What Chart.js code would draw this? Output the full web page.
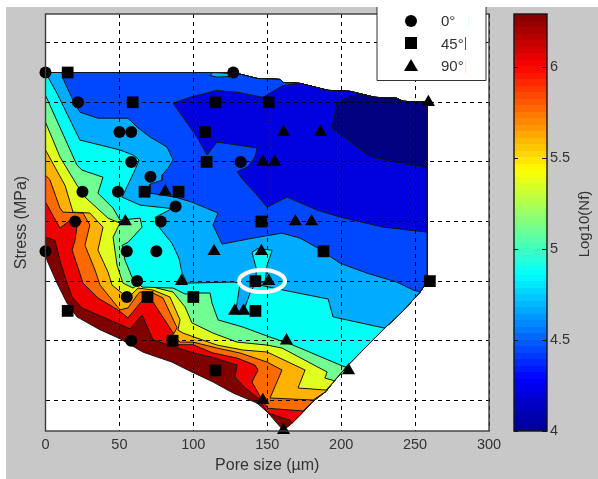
<!DOCTYPE html>
<html>
<head>
<meta charset="utf-8">
<title>Log10(Nf) vs pore size and stress</title>
<script src="https://cdn.jsdelivr.net/npm/chart.js@4"></script>
<style>
    html, body { margin: 0; background: #fff; overflow: hidden; }
    #figure { position: absolute; left: 6px; top: 7px; width: 592px; height: 472px; background: #c8c8c8; }
    canvas { position: absolute; top: 0; }
    #main { left: 0; }
    #bar { left: 490px; }
</style>
</head>
<body>
<div id="figure"></div>
<canvas id="main" width="520" height="479"></canvas>
<canvas id="bar" width="108" height="479"></canvas>
<script>
// stress has no labels in the figure, only gridlines, so its unit is arbitrary
const poreTicks = [0, 50, 100, 150, 200, 250, 300];
const stressTicks = [30, 90, 150, 210, 270, 330, 390];
const colorTicks = [4, 4.5, 5, 5.5, 6];

// specimens, one x and one y list per orientation
const circleX = [0, 127, 22, 50, 58, 58, 132, 71, 25, 49, 88, 20, 78, 0, 55, 75, 62, 55, 58];
const circleY = [360, 360, 330, 300, 300, 270, 270, 255, 240, 240, 225, 210, 210, 180, 180, 180, 150, 134, 90];
const squareX = [15, 59, 115, 151, 108, 109, 67, 90, 146, 188, 15, 69, 100, 142, 142, 86, 115, 260];
const squareY = [360, 330, 330, 330, 300, 270, 240, 240, 210, 180, 120, 134, 134, 150, 120, 90, 60, 150];
const triangleX = [161, 147, 155, 81, 54, 169, 186, 259, 180, 114, 146, 92, 151, 128, 134, 163, 147, 161, 205];
const triangleY = [300, 270, 270, 240, 210, 210, 300, 330, 210, 180, 180, 150, 150, 120, 120, 90, 30, 0, 60];

// outline of the filled zone, walking from the bottom tip up the diagonal and back along the top
const hullEdge = [[160.7, 0], [165.4, 5], [174.2, 18], [181, 29], [189.8, 39], [194.5, 48], [204, 64.5],
    [229.7, 103], [241.2, 119], [253.4, 139], [258.1, 150], [258.1, 330], [241.9, 331], [237.8, 334],
    [222.9, 335], [206, 341], [191.2, 342], [172.2, 349], [160.7, 350], [158.7, 353], [143.1, 354],
    [126.9, 360], [0, 360]];
const hullLow = [[0, 179], [1, 171], [7.8, 148], [14.5, 128], [21.3, 114], [36.9, 101], [50.4, 92], [66, 78.5],
    [85.5, 68.5], [99, 58.5], [113.4, 48.4], [127, 37.3], [143, 27.3], [150, 18.2]];

// contour lines, from the highest level to the lowest
const lineRed = [[0, 194], [6.4, 191], [9.8, 171], [13.2, 154], [18, 134], [24.7, 123], [57.2, 102], [65.3, 116],
    [72.7, 91], [86.3, 84], [99.8, 78], [113.3, 73], [129.6, 65.5], [128.2, 53.4], [135, 42.4], [143.8, 32.3],
    [150.5, 17.2], [165.4, 10], [166.8, 7]];
const lineOrange = [[0, 229.5], [9.8, 203.4], [18.6, 213.4], [21.3, 204.3], [20, 191.3], [18, 181.2], [25.4, 148],
    [35.5, 133], [49, 121], [55.8, 113], [64, 128], [66, 131], [72.7, 129], [87.6, 95], [88.3, 86], [99.8, 86],
    [113.3, 77.6], [129.6, 72.5], [141.7, 65.5], [143.8, 60.5], [139.7, 48.4], [146.5, 30.3], [150.5, 22], [174.2, 19.2]];
const lineAmber = [[0, 256.6], [3, 252], [9.8, 223.5], [11.8, 219.5], [25.4, 218.5], [30, 206.5], [26.7, 186],
    [33.5, 161], [36.9, 146], [50.4, 121], [55.8, 123], [62, 136], [64, 139], [72.7, 138], [79.5, 133], [89, 103],
    [86.3, 96], [91, 88.6], [99.8, 88.6], [116, 82.6], [131.6, 77.6], [149.9, 68.5], [160, 60.5], [151.9, 32.3], [181, 30.3]];
const lineYellow = [[0, 282], [6.4, 264.7], [13.2, 246.4], [16.6, 229.5], [18.6, 219.5], [30, 218.5], [38.9, 204.3],
    [35.5, 181.2], [42.3, 159], [45, 146], [55.8, 133], [62.6, 143], [72.7, 141], [84.2, 134], [91, 111], [89.6, 100.7],
    [93, 97.7], [102.4, 92.7], [116, 85.6], [133.6, 80.6], [149.9, 78.6], [175.6, 60.5], [170.8, 42.4], [189.8, 40.3]];
const lineGreen = [[0, 310], [9.8, 275], [21.3, 246.6], [26.7, 234.6], [42.3, 213.4], [50.4, 208.4], [49, 204.3],
    [45.7, 194.3], [48.4, 166], [52.4, 148], [59.2, 143], [62, 146], [72.7, 144], [86.3, 139], [94.4, 124], [99, 108],
    [113.3, 97.7], [129.6, 88.6], [149.9, 85.6], [160, 82.6], [190.5, 58.5], [189, 52.4], [193.8, 50.4], [195.2, 49.4]];
const lineCyan = [[0, 337], [21.3, 266.7], [24.7, 261.7], [38.9, 254.6], [35.5, 238.5], [45.7, 223.5], [50.4, 211.4],
    [64, 213.4], [65.3, 204.3], [55.8, 189], [51.8, 186], [53.8, 171], [58.5, 154], [65.3, 144], [86.3, 143], [94.4, 137],
    [104.5, 138], [111.3, 138], [112.6, 128], [116.7, 111], [133.6, 103.7], [149.9, 94.7], [167.4, 85.6], [202.6, 63.5], [204, 64.5]];
const lineSky = [[0, 360], [7.8, 339], [23.3, 292], [36.9, 287], [50.4, 282], [59.2, 277], [63.3, 272], [60.6, 262],
    [51.8, 234.6], [64, 226.5], [85.6, 223], [74, 214], [77.5, 203], [85.6, 188], [90.3, 173], [92.4, 158], [95.7, 148],
    [126.9, 149], [131.6, 148], [128.9, 121], [133.6, 118], [138.4, 138], [141.7, 147], [160.7, 141], [191.2, 132],
    [194.5, 114], [228.3, 103], [229.7, 103]];
const lineBlue = [[11.2, 360], [11.8, 354], [18.6, 332], [23.3, 320], [35.5, 314], [55.8, 314], [62, 305], [70.7, 295],
    [82.2, 285], [86.3, 272], [82.9, 263.7], [78.8, 256.6], [78.8, 251.6], [70.7, 247.6], [70.7, 238.5], [87.6, 234.6],
    [99.1, 229.5], [116.7, 218.5], [113.3, 206.4], [119.4, 187.3], [140.4, 193.3], [160, 198.3], [172.2, 193.3],
    [184.3, 183.2], [199.3, 168], [217.5, 158], [237.8, 149], [248.7, 141], [253.4, 139]];
const lineDeep = [[172.2, 349], [160.7, 347], [147.2, 335], [129.6, 340], [116, 342], [97.8, 335], [86.3, 329], [93, 315],
    [102.5, 295], [109.3, 277], [116, 290], [143.1, 284], [141.7, 275], [137, 265], [129.6, 260], [133.6, 252],
    [143.1, 236.6], [149.9, 224.5], [163.4, 234.6], [183.7, 221.5], [199.3, 214.4], [228.3, 204.4], [258.1, 199.3]];
const lineNavy = [[221.5, 335], [212.8, 338], [206, 336], [197.2, 329], [193.8, 304], [219.6, 275], [239.9, 269], [258.1, 264]];

// closed spots that do not touch the outline
const spotCyan = [[142.5, 163], [139.7, 179], [143.8, 183], [153.3, 181], [149.9, 166], [148.5, 149], [143, 149]];
const spotSky = [[111.3, 357], [116, 355.3], [124.8, 356], [126.9, 359], [113.3, 360]];

// legend and colormap
const legendLabels = ['0°', '45°', '90°'];
const jetStops = ['#00008f', '#0000ff', '#0080ff', '#00ffff', '#80ff80', '#ffff00', '#ff8000', '#ff0000', '#800000'];

const bandColors = {
    base: '#800000', red: '#ee0000', orange: '#ff6a00', amber: '#ffb300', yellow: '#e0ff20',
    green: '#70ff90', cyan: '#00fff4', sky: '#00acff', blue: '#0048ff', deep: '#0000df', navy: '#000080'
};

const fontFamily = '"Liberation Sans", Arial, sans-serif';
const tickFont = { family: fontFamily, size: 14.5 };
const titleFont = { family: fontFamily, size: 16 };
const labelColor = '#333';

/**
 * @description closes a contour line along a piece of the outline
 * @param {Array} line contour vertices
 * @param {Number} from first outline vertex to use
 * @param {Number} to outline vertex to stop before
 */
function zone(line, from, to){
    const ring = line.concat(hullEdge.slice(from, to));
    ring.push(ring[0]);
    return ring;
}

function toPoints(pairs){
    return pairs.map(p => ({ x: p[0], y: p[1] }));
}

function band(pairs, color, order){
    return {
        data: toPoints(pairs),
        showLine: true,
        fill: 'shape',
        tension: 0,
        pointRadius: 0,
        borderWidth: 1,
        borderColor: '#141414',
        backgroundColor: color,
        order: order
    };
}

function specimens(xs, ys, style, radius){
    return {
        data: xs.map((x, i) => ({ x: x, y: ys[i] })),
        showLine: false,
        pointStyle: style,
        pointRadius: radius,
        pointBackgroundColor: '#000',
        pointBorderColor: '#000',
        pointBorderWidth: 0,
        clip: false,
        order: 0
    };
}

const bands = [
    [hullEdge.concat(hullLow, [hullEdge[0]]), bandColors.base],
    [zone(lineRed, 2), bandColors.red],
    [zone(lineOrange, 3), bandColors.orange],
    [zone(lineAmber, 4), bandColors.amber],
    [zone(lineYellow, 5), bandColors.yellow],
    [zone(lineGreen, 6), bandColors.green],
    [zone(lineCyan, 7), bandColors.cyan],
    [zone(lineSky, 8, 22), bandColors.sky],
    [spotCyan.concat([spotCyan[0]]), bandColors.cyan],
    [zone(lineBlue, 10, 22), bandColors.blue],
    [spotSky.concat([spotSky[0]]), bandColors.sky],
    [zone(lineDeep, 11, 17), bandColors.deep],
    [zone(lineNavy, 11, 14), bandColors.navy]
];

const plotFrame = {
    id: 'plotFrame',
    beforeDraw(chart){
        const a = chart.chartArea, ctx = chart.ctx;
        ctx.save();
        ctx.fillStyle = '#fff';
        ctx.fillRect(a.left, a.top, a.width, a.height);
        ctx.restore();
    },
    afterDraw(chart){
        const a = chart.chartArea, ctx = chart.ctx;
        ctx.save();
        ctx.strokeStyle = '#3c3c3c';
        ctx.lineWidth = 1.4;
        ctx.strokeRect(a.left, a.top, a.width, a.height);

        // the white ring around the two highlighted specimens
        ctx.strokeStyle = '#fff';
        ctx.lineWidth = 4;
        ctx.beginPath();
        ctx.ellipse(chart.scales.x.getPixelForValue(146.5), chart.scales.y.getPixelForValue(150), 23, 11, 0, 0, Math.PI * 2);
        ctx.stroke();

        // legend box sits over the top right of the axes
        ctx.fillStyle = '#fff';
        ctx.fillRect(377, 7, 109, 73);
        ctx.strokeStyle = '#333';
        ctx.lineWidth = 1;
        ctx.beginPath();
        ctx.moveTo(377, 7);
        ctx.lineTo(377, 80.5);
        ctx.lineTo(486, 80.5);
        ctx.lineTo(486, 7);
        ctx.stroke();

        ctx.fillStyle = '#000';
        ctx.beginPath();
        ctx.arc(411, 21, 6, 0, Math.PI * 2);
        ctx.fill();
        ctx.fillRect(405, 37, 12, 12);
        ctx.beginPath();
        ctx.moveTo(411, 59);
        ctx.lineTo(418, 71);
        ctx.lineTo(404, 71);
        ctx.fill();

        ctx.font = '15px ' + fontFamily;
        ctx.fillStyle = labelColor;
        ctx.textBaseline = 'middle';
        legendLabels.forEach((t, i) => ctx.fillText(t, 441, 22 + i * 22.5));
        ctx.fillStyle = '#555';
        ctx.fillRect(465, 37, 1, 13);
        ctx.fillStyle = '#ffe9c4';
        ctx.fillRect(465, 60, 1, 13);
        ctx.fillStyle = '#dcffff';
        ctx.fillRect(468, 16, 1, 12);
        ctx.restore();
    }
};

new Chart(document.getElementById('main').getContext('2d'), {
    type: 'scatter',
    data: {
        datasets: [
            specimens(circleX, circleY, 'circle', 6),
            specimens(squareX, squareY, 'rect', 8.3),
            specimens(triangleX, triangleY, 'triangle', 7.6)
        ].concat(bands.map((b, i) => band(b[0], b[1], bands.length - i)))
    },
    plugins: [plotFrame],
    options: {
        responsive: false,
        animation: false,
        layout: { padding: { top: 14, right: 31, left: 0, bottom: 0 } },
        plugins: { legend: { display: false }, tooltip: { enabled: false } },
        scales: {
            x: {
                type: 'linear',
                min: 0,
                max: 300,
                afterBuildTicks: s => { s.ticks = poreTicks.map(v => ({ value: v })); },
                afterFit: s => { s.height = 48; },
                grid: { color: '#000', z: 1, drawTicks: false, tickLength: 0 },
                border: { display: false, dash: [4, 4] },
                ticks: { color: labelColor, font: tickFont, padding: 5, maxRotation: 0 },
                title: { display: true, text: 'Pore size (µm)', color: labelColor, font: titleFont, padding: { top: 0, bottom: 4 } }
            },
            y: {
                type: 'linear',
                min: -0.9,
                max: 418.9,
                afterBuildTicks: s => { s.ticks = stressTicks.map(v => ({ value: v })); },
                afterFit: s => { s.width = 45.5; },
                grid: { color: '#000', z: 1, drawTicks: false, tickLength: 0 },
                border: { display: false, dash: [4, 4] },
                ticks: { display: false },
                title: { display: true, text: 'Stress (MPa)', color: labelColor, font: titleFont, padding: { top: 12, bottom: 12 } }
            }
        }
    }
});

// stepped jet gradient, the colorbar shows 64 flat bands
function jetGradient(chart){
    const a = chart.chartArea;
    if(!a) return jetStops[0];
    const g = chart.ctx.createLinearGradient(0, a.bottom, 0, a.top);
    const rgb = jetStops.map(h => [1, 3, 5].map(i => parseInt(h.substr(i, 2), 16)));
    for(let i = 0; i < 64; i++){
        const t = (i + 0.5) / 64 * (rgb.length - 1);
        const k = Math.floor(t), f = t - k;
        const c = rgb[k].map((v, j) => Math.round(v + (rgb[k + 1][j] - v) * f));
        const css = `rgb(${c[0]},${c[1]},${c[2]})`;
        g.addColorStop(i / 64, css);
        g.addColorStop((i + 1) / 64, css);
    }
    return g;
}

const barFrame = {
    id: 'barFrame',
    afterDraw(chart){
        const a = chart.chartArea, ctx = chart.ctx, y = chart.scales.y;
        ctx.save();
        ctx.strokeStyle = '#141414';
        ctx.lineWidth = 1.4;
        ctx.strokeRect(a.left, a.top, a.width, a.height);
        ctx.lineWidth = 1;
        colorTicks.forEach(v => {
            const py = Math.round(y.getPixelForValue(v)) + 0.5;
            ctx.beginPath();
            ctx.moveTo(a.left, py);
            ctx.lineTo(a.left + 4, py);
            ctx.moveTo(a.right - 5, py);
            ctx.lineTo(a.right, py);
            ctx.stroke();
        });
        // title reads upwards, which a right hand axis title cannot do
        ctx.translate(95, 224);
        ctx.rotate(-Math.PI / 2);
        ctx.font = '15px ' + fontFamily;
        ctx.fillStyle = labelColor;
        ctx.textAlign = 'center';
        ctx.textBaseline = 'middle';
        ctx.fillText('Log10(Nf)', 0, 0);
        ctx.restore();
    }
};

new Chart(document.getElementById('bar').getContext('2d'), {
    type: 'bar',
    data: {
        labels: ['Log10(Nf)'],
        datasets: [{
            data: [[4, 6.294]],
            barPercentage: 1,
            categoryPercentage: 1,
            backgroundColor: ctx => jetGradient(ctx.chart)
        }]
    },
    plugins: [barFrame],
    options: {
        responsive: false,
        animation: false,
        layout: { padding: { top: 14, bottom: 48, left: 24, right: 0 } },
        plugins: { legend: { display: false }, tooltip: { enabled: false } },
        scales: {
            x: { display: false },
            y: {
                position: 'right',
                min: 4,
                max: 6.294,
                afterBuildTicks: s => { s.ticks = colorTicks.map(v => ({ value: v })); },
                afterFit: s => { s.width = 51; },
                grid: { display: false, drawTicks: false, tickLength: 0 },
                border: { display: false },
                ticks: { color: labelColor, font: tickFont, padding: 3, callback: v => String(v) }
            }
        }
    }
});
</script>
</body>
</html>
